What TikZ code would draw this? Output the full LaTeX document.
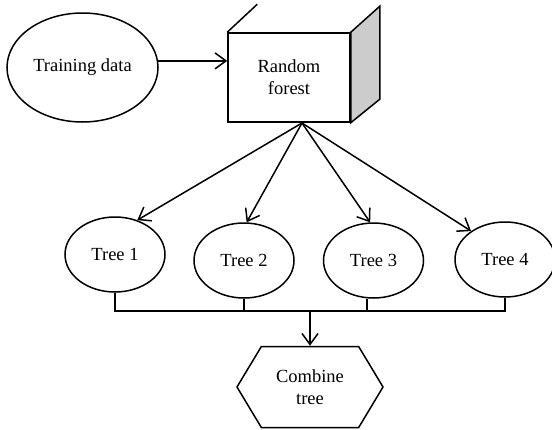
\documentclass[tikz,border=0pt]{standalone}
\usepackage{fontspec}
\setmainfont{Liberation Serif}
\usetikzlibrary{arrows.meta,positioning,shapes.geometric,shapes.symbols}

\begin{document}
\begin{tikzpicture}[
    x=1pt, y=-1pt,
    line width=1.5pt,
    font=\fontsize{18.5}{22}\selectfont,
    oval/.style={
      draw,
      ellipse,
      inner sep=0pt,
      align=center,
      minimum width=100pt,
      minimum height=75pt
    },
    cube/.style={
      draw,
      rectangle,
      fill=white,
      align=center,
      minimum width=122pt,
      minimum height=89pt
    },
    hexa/.style={
      draw,
      signal,
      signal to=west and east,
      signal pointer angle=118,
      align=center,
      minimum width=146pt,
      minimum height=81pt
    },
    arrow/.style={-{Straight Barb[length=11pt,width=16pt]}}
  ]
  \useasboundingbox (0,0) rectangle (552,429);
  \node[oval,minimum width=151pt,minimum height=109pt] (train) at (82.5,67.5) {Training data};
  \node[cube] (forest) at (289,77.5) {Random\\forest};
  \filldraw[fill=gray!40] (forest.north east) -- ++(29,-26) -- ++(0,93) -- (forest.south east) -- cycle;
  \draw (forest.north west) -- ++(30,-28);
  \node[oval] (tree1) at (115,254.5) {Tree 1};
  \node[oval] (tree2) at (244,260.5) {Tree 2};
  \node[oval] (tree3) at (373.5,260.5) {Tree 3};
  \node[oval] (tree4) at (505,259.5) {Tree 4};
  \node[hexa] (combine) at (310,387) {Combine\\tree};
  \coordinate (fan) at (302,123);
  \coordinate (bus) at (310,311);
  \draw[arrow] (train.5) -- (train.5 -| forest.west);
  \draw[arrow] (fan) -- (tree1.57);
  \draw[arrow] (fan) -- (tree2.86);
  \draw[arrow] (fan) -- (tree3.95);
  \draw[arrow] (fan) -- (tree4.140);
  % join the trees
  \draw (tree1.south) |- (tree4.south |- bus) -- (tree4.south);
  \draw (tree2.south) -- (tree2.south |- bus);
  \draw ([xshift=-6.5pt]tree3.south) -- ([xshift=-6.5pt]tree3.south |- bus);
  \draw[arrow] (bus) -- (combine.north);
\end{tikzpicture}
\end{document}
